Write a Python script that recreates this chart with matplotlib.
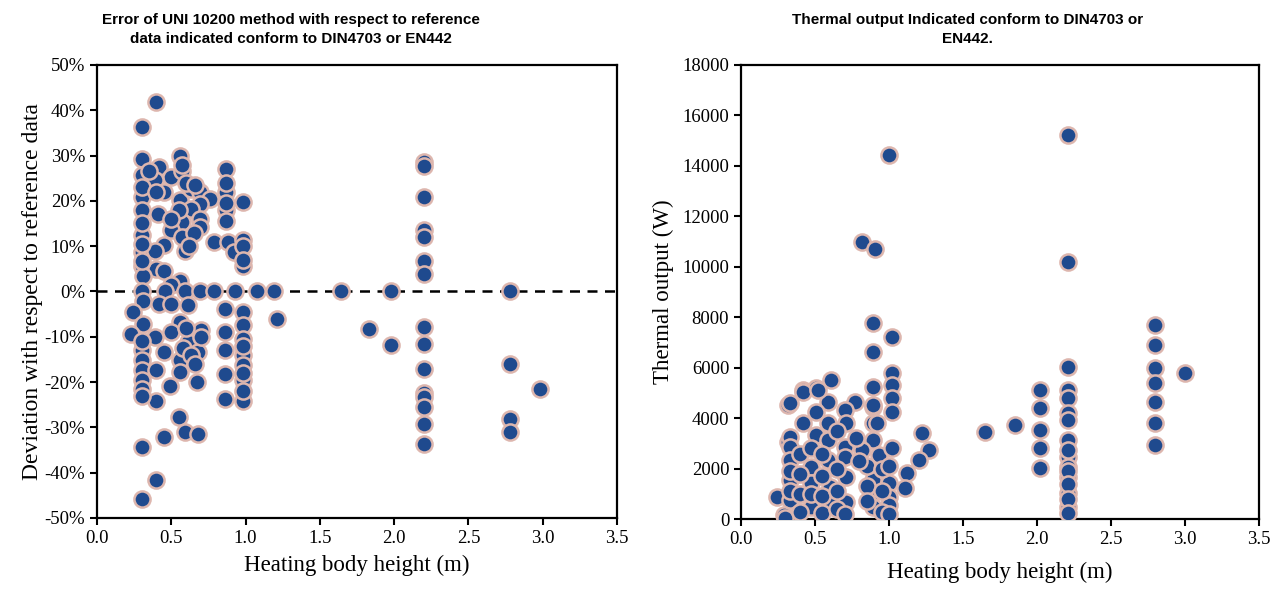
import numpy as np
import matplotlib.pyplot as plt
from matplotlib.ticker import FuncFormatter

# left chart: deviation (%) vs heating body height (m)
dev_x = [0.40, 0.305, 0.30, 0.56, 0.30, 0.42, 0.50, 0.39, 0.57, 0.87, 0.30, 0.45, 0.56, 0.63, 0.69,
         0.76, 0.87, 0.98, 0.87, 0.41, 0.69, 0.63, 0.69, 0.57, 0.50, 0.69, 0.30, 0.57, 0.79, 0.88,
         0.98, 0.45, 0.59, 0.30, 0.92, 0.39, 0.30, 0.40, 0.98, 0.31, 0.56,
         0.30, 0.30, 0.30, 0.30, 0.30, 0.57, 0.60, 0.66, 0.55, 0.50, 0.65, 0.62, 0.87, 0.87, 0.87,
         0.98, 0.98, 0.45, 0.50, 0.40, 0.35,
         0.30, 0.46, 0.59, 0.69, 0.79, 0.93, 1.08, 1.19, 1.64, 1.98, 2.78,
         2.20, 2.20, 2.20, 2.20, 2.20, 2.20, 2.20,
         0.31, 0.42, 0.50, 0.61, 0.24, 0.86, 0.98, 1.21, 0.31, 0.56, 0.98, 0.23, 0.39, 0.50, 0.70,
         0.86, 0.98, 0.61, 0.30, 0.45, 0.68, 0.86, 0.98, 0.30, 0.56, 0.30, 0.40, 0.56, 0.86, 0.98,
         0.30, 0.49, 0.67, 0.98, 0.30, 0.40, 0.86, 0.98, 0.55, 0.45, 0.59, 0.68, 0.30, 0.40, 0.30,
         0.60, 0.58, 0.63, 0.66, 0.70, 0.98, 0.98, 0.98, 0.30, 0.30,
         2.20, 2.20, 2.20, 2.20, 2.20, 2.20, 2.20, 2.20,
         1.83, 1.98, 2.78, 2.98, 2.78, 2.78]
dev_y = [41.8, 36.3, 29.3, 30.0, 25.6, 27.4, 25.2, 24.5, 26.7, 27.1, 20.8, 21.9, 20.1, 22.7, 21.9,
         20.5, 21.9, 19.7, 17.9, 17.1, 19.4, 18.3, 16.0, 15.3, 13.5, 14.2, 12.4, 12.0, 10.9, 10.9,
         11.3, 10.2, 9.0, 8.7, 8.7, 9.0, 5.7, 5.0, 5.7, 3.5, 2.4,
         23.0, 18.0, 15.0, 10.5, 6.8, 28.0, 24.0, 23.5, 18.0, 16.0, 13.0, 10.0, 24.0, 19.5, 15.5,
         10.0, 7.0, 4.5, 1.5, 22.0, 26.5,
         0, 0, 0, 0, 0, 0, 0, 0, 0, 0, 0,
         28.5, 27.8, 20.8, 13.5, 12.0, 6.8, 3.9,
         -2.0, -2.7, -2.7, -3.1, -4.6, -3.8, -4.6, -6.0, -7.1, -6.8, -7.5, -9.3, -10.1, -9.0, -8.6,
         -9.0, -10.4, -11.2, -13.0, -13.4, -13.4, -13.0, -14.1, -15.2, -15.2, -17.4, -17.4, -17.8, -18.2, -16.3,
         -19.6, -20.8, -20.0, -19.6, -21.5, -24.1, -23.7, -24.1, -27.7, -32.2, -31.1, -31.4, -34.4, -41.7, -45.8,
         -8.0, -12.5, -14.0, -16.0, -10.0, -12.0, -18.0, -22.0, -11.0, -23.0,
         -7.9, -11.5, -17.1, -22.5, -23.3, -25.5, -29.2, -33.6,
         -8.2, -11.9, -16.0, -21.5, -28.1, -31.1]

# right chart: thermal output (W) vs heating body height (m)
out_x = [1.00, 0.815, 0.905, 0.89, 1.02, 0.89, 1.02, 1.02, 0.89, 1.02, 1.02, 0.89, 0.89, 0.89,
         0.61, 0.42, 0.51, 0.32, 0.77, 0.59, 0.70, 0.51, 0.42, 0.59, 0.71, 0.32, 0.51,
         1.22, 1.27, 1.20, 1.12, 1.11, 1.65, 1.85,
         2.21, 2.21, 2.21, 2.21, 2.21, 2.21, 2.21, 2.21, 2.21, 2.21, 2.21, 2.21, 2.21,
         2.21, 2.21, 2.21, 2.21, 2.21,
         2.02, 2.02, 2.02, 2.02, 2.02,
         2.80, 2.80, 2.80, 2.80, 2.80, 2.80, 2.80, 3.00,
         0.42, 0.52, 0.33, 0.89, 0.92, 0.33, 0.59, 0.70, 0.33, 0.82, 0.93, 1.02, 0.33, 0.47,
         0.59, 0.70, 0.33, 0.47, 0.60, 0.71, 0.89, 1.00, 0.89, 1.00, 0.24, 0.33, 0.47, 0.60,
         0.71, 0.89, 1.00, 0.29, 0.30, 0.33, 0.33, 0.40, 0.40, 0.40, 0.40, 0.47, 0.47, 0.55,
         0.55, 0.55, 0.55, 0.65, 0.65, 0.65, 0.65, 0.70, 0.85, 0.85, 0.85, 0.95, 0.95, 0.95,
         1.00, 1.00, 0.80, 0.78]
out_y = [14450, 11000, 10700, 7770, 7230, 6640, 5780, 5320, 5250, 4790, 4260, 4460, 3800, 3140,
         5520, 5120, 5190, 4520, 4650, 4650, 4320, 4260, 3800, 3800, 3800, 3070, 3330,
         3400, 2740, 2340, 1810, 1220, 3460, 3750,
         15240, 10210, 6040, 5120, 4790, 4190, 3930, 3140, 2470, 2080, 1680, 1020, 490,
         2750, 1900, 1400, 800, 250,
         5120, 4390, 3530, 2800, 2010,
         7700, 6900, 5980, 5390, 4650, 3800, 2940, 5780,
         5050, 5120, 4590, 4520, 3800, 3270, 3140, 2870, 2870, 2740, 2540, 2800, 2340, 2080,
         2340, 2470, 1550, 1420, 1280, 1680, 1550, 1420, 1020, 890, 890, 750, 490, 620,
         690, 490, 560, 160, 50, 1100, 1900, 2600, 1800, 1000, 300, 2800, 1000, 2600,
         1700, 900, 250, 3500, 2000, 1100, 400, 200, 2100, 1300, 700, 2000, 1100, 300,
         2100, 200, 2300, 3200]

face = '#1F4A8E'
edge = '#DDB6AE'
serif = ['Liberation Serif', 'DejaVu Serif']
sans = ['Liberation Sans', 'DejaVu Sans']

fig = plt.figure(figsize=(12.82, 5.96), dpi=100)
ax1 = fig.add_axes([0.0757, 0.131, 0.4056, 0.760])
ax2 = fig.add_axes([0.578, 0.129, 0.404, 0.762])

ax1.axhline(0, color='black', linestyle=(0, (4, 3)), linewidth=1.8, zorder=1)
ax1.scatter(dev_x, dev_y, s=135, c=face, edgecolors=edge, linewidths=1.8, zorder=3, clip_on=False)
ax1.set_ylim(-50, 50)
ax1.set_yticks(np.arange(-50, 51, 10))
ax1.yaxis.set_major_formatter(FuncFormatter(lambda v, p: '%d%%' % v))
ax1.set_xlabel('Heating body height (m)', fontsize=16.5, family=serif, labelpad=6)
ax1.set_ylabel('Deviation with respect to reference data', fontsize=17, family=serif, labelpad=1)

ax2.scatter(out_x, out_y, s=135, c=face, edgecolors=edge, linewidths=1.8, zorder=3)
ax2.set_ylim(0, 18000)
ax2.set_yticks(np.arange(0, 18001, 2000))
ax2.set_xlabel('Heating body height (m)', fontsize=16.5, family=serif, labelpad=10)
ax2.set_ylabel('Thermal output (W)', fontsize=16.5, family=serif, labelpad=6)

for ax in (ax1, ax2):
    for s in ax.spines.values():
        s.set_linewidth(1.6)
    ax.tick_params(direction='out', width=1.5, length=5, labelsize=13.5)
    ax.set_xlim(0, 3.5)
    ax.set_xticks(np.arange(0, 3.51, 0.5))
    ax.xaxis.set_major_formatter(FuncFormatter(lambda v, p: '%.1f' % v))
    for lab in ax.get_xticklabels() + ax.get_yticklabels():
        lab.set_family(serif)

fig.text(0.227, 0.9505, 'Error of UNI 10200 method with respect to reference\ndata indicated conform to DIN4703 or EN442',
         ha='center', va='center', fontsize=11, fontweight='bold', family=sans, linespacing=1.45)
fig.text(0.755, 0.9505, 'Thermal output Indicated conform to DIN4703 or\nEN442.',
         ha='center', va='center', fontsize=11, fontweight='bold', family=sans, linespacing=1.45)

fig.savefig('out.png', dpi=100)
